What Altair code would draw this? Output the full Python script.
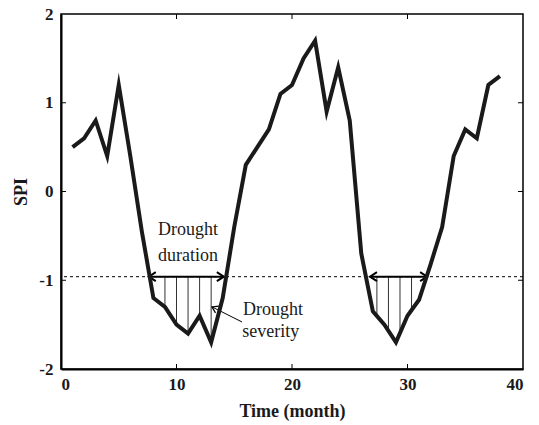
import altair as alt
import pandas as pd

# ---- data ----
months = list(range(1, 39))
spi = [0.5, 0.6, 0.8, 0.4, 1.2, 0.4, -0.45, -1.2, -1.3, -1.5, -1.6, -1.4, -1.7,
       -1.2, -0.4, 0.3, 0.5, 0.7, 1.1, 1.2, 1.5, 1.7, 0.9, 1.4, 0.8, -0.7,
       -1.35, -1.5, -1.7, -1.4, -1.22, -0.82, -0.4, 0.4, 0.7, 0.6, 1.2, 1.3]
threshold = -0.96

hatch_x = [9, 10, 11, 12, 13, 27.35, 28.35, 29.35, 30.35]
hatch_bottom = [-1.3, -1.5, -1.6, -1.4, -1.7, -1.40, -1.57, -1.60, -1.34]

dur_start = [7.6, 26.75]
dur_end = [14.1, 31.7]

sev_tail_x, sev_tail_y = 15.67, -1.47
sev_tip_x, sev_tip_y = 13.07, -1.30

text_labels = ["Drought", "duration"]
text_x = [11.0, 11.0]
text_y = [-0.49, -0.78]
sev_labels = ["Drought", "severity"]
sev_x = [15.76, 15.7]
sev_y = [-1.39, -1.64]

x_ticks = [0, 10, 20, 30, 40]
y_ticks = [-2, -1, 0, 1, 2]
inner_x_ticks = [10, 20, 30]
inner_y_ticks = [-1, 0, 1]

W, H = 462, 355
FONT = "Liberation Serif"

xs = alt.Scale(domain=[0, 40], nice=False, zero=False)
ys = alt.Scale(domain=[-2, 2], nice=False, zero=False)

line_df = pd.DataFrame({"month": months, "spi": spi})
thr_df = pd.DataFrame({"thr": [threshold]})
hatch_df = pd.DataFrame({"x": hatch_x, "yb": hatch_bottom, "thr": [threshold] * len(hatch_x)})
dur_df = pd.DataFrame({"x0": dur_start, "x1": dur_end, "thr": [threshold] * 2})
sev_df = pd.DataFrame({"x0": [sev_tail_x], "y0": [sev_tail_y], "x1": [sev_tip_x], "y1": [sev_tip_y]})
txt_df = pd.DataFrame({"t": text_labels, "x": text_x, "y": text_y})
sev_txt_df = pd.DataFrame({"t": sev_labels, "x": sev_x, "y": sev_y})
xt_df = pd.DataFrame({"v": inner_x_ticks})
yt_df = pd.DataFrame({"v": inner_y_ticks})

arrow_path = "M 1.4 -0.9 L 0 0 L 1.4 0.9"

base_line = alt.Chart(line_df).mark_line(
    color="#1a1a1a", strokeWidth=4, strokeJoin="miter", strokeMiterLimit=10
).encode(
    x=alt.X("month:Q", scale=xs, axis=alt.Axis(
        values=x_ticks, title="Time (month)", tickSize=0, labelPadding=7,
        titlePadding=10, grid=False, domainColor="black", domainWidth=2)),
    y=alt.Y("spi:Q", scale=ys, axis=alt.Axis(
        values=y_ticks, title="SPI", tickSize=0, labelPadding=8,
        titlePadding=8, grid=False, labelExpr="datum.value + ''",
        domainColor="black", domainWidth=2)),
)

thr_rule = alt.Chart(thr_df).mark_rule(
    color="black", strokeWidth=1, strokeDash=[3, 3]
).encode(y=alt.Y("thr:Q", scale=ys))

hatch = alt.Chart(hatch_df).mark_rule(color="#333333", strokeWidth=1).encode(
    x=alt.X("x:Q", scale=xs), y=alt.Y("thr:Q", scale=ys), y2="yb:Q")

dur_rule = alt.Chart(dur_df).mark_rule(color="black", strokeWidth=2).encode(
    x=alt.X("x0:Q", scale=xs), x2="x1:Q", y=alt.Y("thr:Q", scale=ys))

dur_left = alt.Chart(dur_df).mark_point(
    shape=arrow_path, filled=False, color="black", strokeWidth=2, size=100, opacity=1
).encode(x=alt.X("x0:Q", scale=xs), y=alt.Y("thr:Q", scale=ys))

dur_right = alt.Chart(dur_df).mark_point(
    shape=arrow_path, filled=False, color="black", strokeWidth=2, size=100, opacity=1, angle=180
).encode(x=alt.X("x1:Q", scale=xs), y=alt.Y("thr:Q", scale=ys))

sev_rule = alt.Chart(sev_df).mark_rule(color="black", strokeWidth=1).encode(
    x=alt.X("x0:Q", scale=xs), y=alt.Y("y0:Q", scale=ys), x2="x1:Q", y2="y1:Q")

sev_head = alt.Chart(sev_df).mark_point(
    shape=arrow_path, filled=False, color="black", strokeWidth=1.2, size=70, opacity=1, angle=26.6
).encode(x=alt.X("x1:Q", scale=xs), y=alt.Y("y1:Q", scale=ys))

txt = alt.Chart(txt_df).mark_text(
    font=FONT, fontSize=18, align="center", baseline="alphabetic", color="#1a1a1a"
).encode(x=alt.X("x:Q", scale=xs), y=alt.Y("y:Q", scale=ys), text="t:N")

sev_txt = alt.Chart(sev_txt_df).mark_text(
    font=FONT, fontSize=18, align="left", baseline="alphabetic", color="#1a1a1a"
).encode(x=alt.X("x:Q", scale=xs), y=alt.Y("y:Q", scale=ys), text="t:N")

tick_b = alt.Chart(xt_df).mark_rule(color="black", strokeWidth=1).encode(
    x=alt.X("v:Q", scale=xs), y=alt.value(H), y2=alt.value(H - 5))
tick_t = alt.Chart(xt_df).mark_rule(color="black", strokeWidth=1).encode(
    x=alt.X("v:Q", scale=xs), y=alt.value(0), y2=alt.value(5))
tick_l = alt.Chart(yt_df).mark_rule(color="black", strokeWidth=1).encode(
    y=alt.Y("v:Q", scale=ys), x=alt.value(0), x2=alt.value(5))
tick_r = alt.Chart(yt_df).mark_rule(color="black", strokeWidth=1).encode(
    y=alt.Y("v:Q", scale=ys), x=alt.value(W), x2=alt.value(W - 5))

chart = alt.layer(
    thr_rule, hatch, dur_rule, dur_left, dur_right, sev_rule, sev_head,
    base_line, txt, sev_txt, tick_b, tick_t, tick_l, tick_r
).properties(
    width=W, height=H,
    autosize=alt.AutoSizeParams(type="none"),
    padding={"left": 61, "top": 14, "right": 16, "bottom": 56},
    background="white",
).configure_view(
    stroke="black", strokeWidth=1.5
).configure_axis(
    labelFont=FONT, labelFontSize=17, labelFontWeight="bold", labelColor="#1a1a1a",
    titleFont=FONT, titleFontSize=18, titleFontWeight="bold", titleColor="#1a1a1a",
)

chart.save("out.html", embed_options={"renderer": "svg", "actions": False})
